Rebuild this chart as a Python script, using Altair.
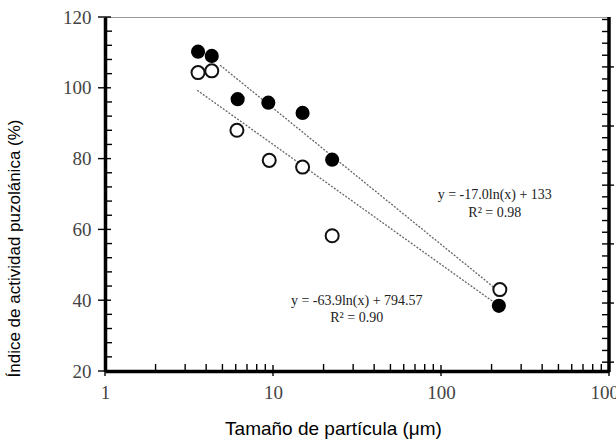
import altair as alt
import pandas as pd

# Particle size (µm) against pozzolanic activity index (%)
filled_size = [3.58, 4.32, 6.16, 9.38, 15.0, 22.5, 221.0]
filled_index = [110.2, 109.0, 96.8, 95.8, 92.9, 79.7, 38.4]
open_size = [3.58, 4.32, 6.10, 9.50, 15.0, 22.5, 224.0]
open_index = [104.3, 104.8, 88.0, 79.5, 77.6, 58.2, 43.0]

# Logarithmic trend lines (straight on the log axis): end points
trend_a_size = [4.84, 212.0]
trend_a_index = [106.4, 43.2]
trend_b_size = [3.54, 214.0]
trend_b_index = [99.3, 38.9]

# Equation labels
eq_text = ["y = -17.0ln(x) + 133", "R² = 0.98", "y = -63.9ln(x) + 794.57", "R² = 0.90"]
eq_size = [209.0, 209.0, 31.5, 31.5]
eq_index = [69.6, 64.5, 39.8, 35.0]

# Axis tick positions
x_major = [1, 10, 100, 1000]
x_minor = [2, 3, 4, 5, 6, 7, 8, 9,
           20, 30, 40, 50, 60, 70, 80, 90,
           200, 300, 400, 500, 600, 700, 800, 900]
y_major = [20, 40, 60, 80, 100, 120]
y_minor = [24, 28, 32, 36, 44, 48, 52, 56, 64, 68, 72, 76,
           84, 88, 92, 96, 104, 108, 112, 116]
right_major = [22.5, 39.2, 55.9, 72.5, 89.2, 105.9]
right_minor = [25.8, 29.2, 32.5, 35.9, 42.5, 45.9, 49.2, 52.5,
               59.2, 62.5, 65.9, 69.2, 75.9, 79.2, 82.5, 85.9,
               92.5, 95.9, 99.2, 102.5, 109.2, 112.6, 115.9, 119.3]

W, H = 504, 354

xs = alt.Scale(type="log", domain=[1, 1000], nice=False)
ys = alt.Scale(domain=[20, 120], nice=False, zero=False)

x_axis = alt.Axis(
    values=x_major, format="d", ticks=False, grid=False,
    domainColor="black", domainWidth=3.5,
    labelFont="Liberation Serif", labelFontSize=19, labelColor="#444",
    labelPadding=12, labelFlush=False, labelOverlap=False,
    title="Tamaño de partícula (μm)", titleFont="Liberation Sans",
    titleFontSize=19, titleFontWeight="normal", titleColor="black",
    titleX=228, titleY=57, titleBaseline="middle",
)
y_axis = alt.Axis(
    values=y_major, format="d", ticks=False, grid=False,
    domainColor="black", domainWidth=3.5,
    labelFont="Liberation Serif", labelFontSize=19, labelColor="#444",
    labelPadding=14, labelFlush=False, labelOverlap=False,
    title="Índice de actividad puzolánica (%)", titleFont="Liberation Sans",
    titleFontSize=17, titleFontWeight="normal", titleColor="black",
    titleX=-91, titleY=231, titleBaseline="middle", titleAlign="center",
)

pts_filled = pd.DataFrame({"size": filled_size, "index": filled_index})
pts_open = pd.DataFrame({"size": open_size, "index": open_index})
trend = pd.DataFrame({
    "size": trend_a_size + trend_b_size,
    "index": trend_a_index + trend_b_index,
    "fit": ["a"] * len(trend_a_size) + ["b"] * len(trend_b_size),
})
eqs = pd.DataFrame({"size": eq_size, "index": eq_index, "label": eq_text})

px = alt.X("size:Q", scale=xs, axis=x_axis)
py = alt.Y("index:Q", scale=ys, axis=y_axis)

lines = alt.Chart(trend).mark_line(
    color="#666", strokeWidth=1.3, strokeDash=[2, 1.5]
).encode(x=px, y=py, detail="fit:N")

filled = alt.Chart(pts_filled).mark_point(
    shape="circle", filled=True, size=200, color="black", opacity=1
).encode(x=px, y=py)

hollow = alt.Chart(pts_open).mark_point(
    shape="circle", filled=False, size=170, stroke="#111", fill="white",
    fillOpacity=1, strokeWidth=2, opacity=1
).encode(x=px, y=py)

labels = alt.Chart(eqs).mark_text(
    font="Liberation Serif", fontSize=14, color="#222"
).encode(x=px, y=py, text="label:N")


# Frame ticks: short rules along the axes
def yticks(values, x0, x1):
    return alt.Chart(pd.DataFrame({"v": values})).mark_rule(
        color="black", strokeWidth=1.4
    ).encode(y=alt.Y("v:Q", scale=ys), x=alt.value(x0), x2=alt.value(x1))


def xticks(values, y0, y1):
    return alt.Chart(pd.DataFrame({"v": values})).mark_rule(
        color="black", strokeWidth=1.4
    ).encode(x=alt.X("v:Q", scale=xs), y=alt.value(y0), y2=alt.value(y1))


right_edge = alt.Chart(pd.DataFrame({"v": [0]})).mark_rule(
    color="black", strokeWidth=3.5
).encode(x=alt.value(W), y=alt.value(0), y2=alt.value(H + 1))

chart = alt.layer(
    lines, hollow, filled, labels,
    yticks(y_minor, 0, 7), yticks(y_major, -7, 6),
    xticks(x_minor, H - 7, H), xticks(x_major, H - 6, H + 5),
    yticks(right_minor, W - 7, W), yticks(right_major, W - 7, W + 5),
    right_edge,
).properties(
    width=W, height=H,
    autosize=alt.AutoSizeParams(type="none"),
    padding={"left": 105, "top": 17, "right": 7, "bottom": 75},
).configure_view(stroke="#999", strokeWidth=1)

chart.save("out.html", embed_options={"renderer": "svg", "actions": False})
